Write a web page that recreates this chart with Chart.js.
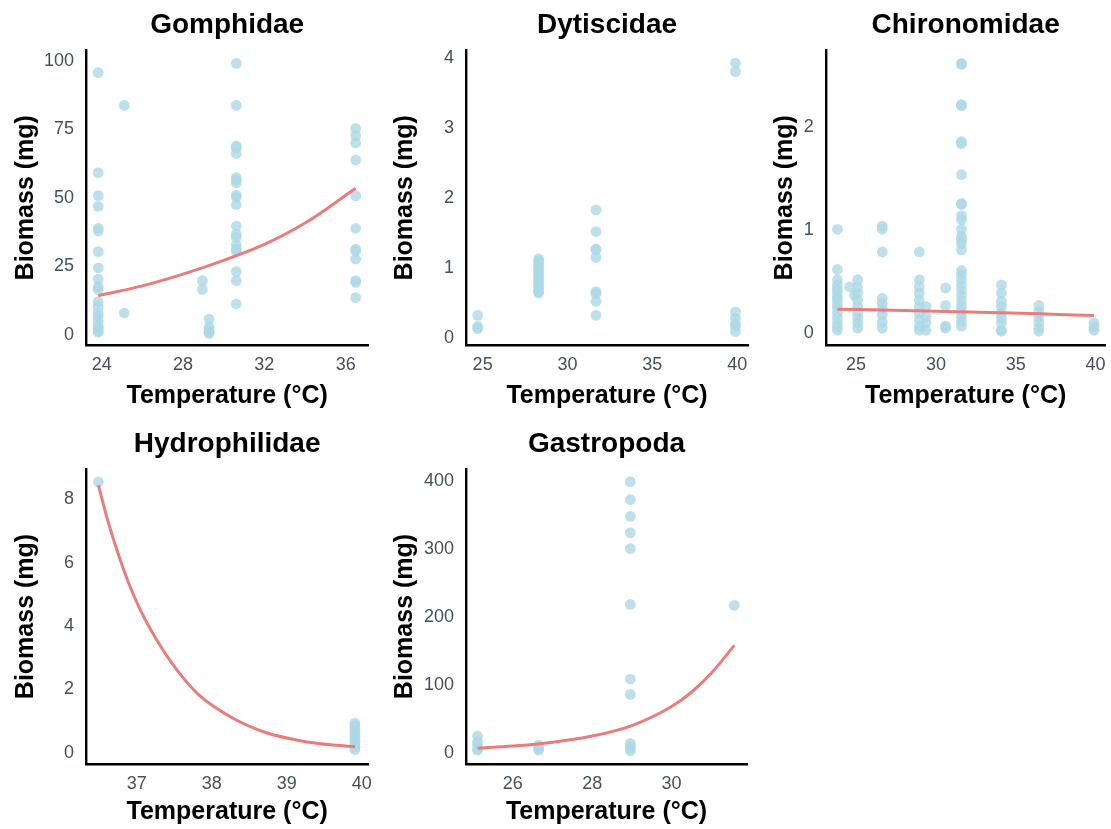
<!DOCTYPE html>
<html>
<head>
<meta charset="utf-8">
<script src="https://cdn.jsdelivr.net/npm/chart.js@4.4.1/dist/chart.umd.min.js"></script>
<style>
  html, body { margin: 0; padding: 0; background: #ffffff; }
  body { width: 1111px; height: 829px; position: relative; overflow: hidden; }
  .panel { position: absolute; }
</style>
</head>
<body>
<div class="panel" id="p1"><canvas id="c1"></canvas></div>
<div class="panel" id="p2"><canvas id="c2"></canvas></div>
<div class="panel" id="p3"><canvas id="c3"></canvas></div>
<div class="panel" id="p4"><canvas id="c4"></canvas></div>
<div class="panel" id="p5"><canvas id="c5"></canvas></div>
<script>
// ---------------- DATA ----------------
const panelTitles = ["Gomphidae", "Dytiscidae", "Chironomidae", "Hydrophilidae", "Gastropoda"];
const xAxisTitle = "Temperature (°C)";
const yAxisTitle = "Biomass (mg)";

// Gomphidae
const gomphidaeTemp = [
  23.83,23.83,23.83,23.83,23.83,23.83,23.83,23.83,23.83,23.83,23.83,23.83,23.83,23.83,23.83,23.83,23.83,23.83,23.83,23.83,
  25.11,25.11,
  28.95,28.95,
  29.28,29.28,29.28,29.28,29.28,
  30.62,30.62,30.62,30.62,30.62,30.62,30.62,30.62,30.62,30.62,30.62,30.62,30.62,30.62,30.62,30.62,30.62,30.62,30.62,30.62,
  36.49,36.49,36.49,36.49,36.49,36.49,36.49,36.49,36.49,36.49,36.49,36.49
];
const gomphidaeBiomass = [
  95.6,59.2,50.8,46.9,38.9,37.9,30.4,24.5,20.4,17.6,16.6,12.2,10.3,8.0,6.7,5.0,3.5,2.5,1.5,1.0,
  83.7,8.0,
  19.8,16.6,
  5.8,3.0,1.8,1.0,0.6,
  99.0,83.7,68.9,68.3,66.2,57.4,56.5,55.5,51.0,50.2,47.5,39.7,36.7,35.6,32.8,31.3,30.6,23.1,19.8,11.3,
  75.3,72.7,70.0,63.8,50.7,38.9,31.3,30.7,27.7,19.8,19.2,13.6
];
const gomphidaeFitTemp = [23.83, 26, 28, 30, 32, 34, 36.49];
const gomphidaeFitBiomass = [14.3, 17.9, 22.2, 27.2, 33.0, 40.8, 53.5];
const gomphidaeXTicks = [24, 28, 32, 36];
const gomphidaeYTicks = [0, 25, 50, 75, 100];

// Dytiscidae
const dytiscidaeTemp = [
  24.71,24.71,24.71,
  28.3,28.3,28.3,28.3,28.3,28.3,28.3,28.3,28.3,28.3,28.3,28.3,28.3,28.3,
  31.68,31.68,31.68,31.68,31.68,31.68,31.68,31.68,31.68,
  39.9,39.9,39.9,39.9,39.9,39.9,39.9
];
const dytiscidaeBiomass = [
  0.32,0.16,0.13,
  1.13,1.10,1.06,1.02,0.98,0.94,0.90,0.86,0.82,0.78,0.74,0.70,0.66,0.64,
  1.83,1.52,1.27,1.26,1.15,0.66,0.63,0.52,0.32,
  3.93,3.81,0.37,0.28,0.20,0.16,0.09
];
const dytiscidaeXTicks = [25, 30, 35, 40];
const dytiscidaeYTicks = [0, 1, 2, 3, 4];

// Chironomidae
const chironomidaeTemp = [
  23.83,23.83,23.83,23.83,23.83,23.83,23.83,23.83,23.83,23.83,23.83,23.83,23.83,23.83,23.83,
  24.6,24.9,
  25.1,25.1,25.1,25.1,25.1,25.1,25.1,25.1,25.1,
  26.64,26.64,26.64,26.64,26.64,26.64,26.64,26.64,26.64,
  28.96,28.96,28.96,28.96,28.96,28.96,28.96,28.96,28.96,28.96,
  29.38,29.38,29.38,29.38,
  30.6,30.6,30.6,30.6,
  31.6,31.6,31.6,31.6,31.6,31.6,31.6,31.6,31.6,31.6,31.6,31.6,31.6,31.6,31.6,31.6,31.6,31.6,31.6,31.6,31.6,31.6,31.6,31.6,31.6,31.6,31.6,31.6,
  34.1,34.1,34.1,34.1,34.1,34.1,34.1,34.1,34.1,
  36.44,36.44,36.44,36.44,36.44,36.44,
  39.9,39.9,39.9
];
const chironomidaeBiomass = [
  1.01,0.62,0.52,0.47,0.43,0.40,0.36,0.33,0.29,0.25,0.20,0.15,0.10,0.06,0.03,
  0.45,0.37,
  0.52,0.45,0.39,0.32,0.26,0.20,0.15,0.10,0.05,
  1.04,1.01,0.79,0.34,0.29,0.24,0.18,0.11,0.05,
  0.79,0.52,0.45,0.39,0.32,0.26,0.19,0.13,0.07,0.03,
  0.26,0.16,0.10,0.03,
  0.44,0.27,0.07,0.05,
  2.62,2.61,2.22,2.21,1.86,1.84,1.54,1.26,1.25,1.14,1.10,1.01,0.94,0.91,0.87,0.81,0.61,0.57,0.52,0.47,0.42,0.37,0.32,0.27,0.22,0.17,0.12,0.07,0.03,0.02,
  0.47,0.39,0.31,0.26,0.20,0.15,0.10,0.05,0.02,
  0.27,0.21,0.16,0.11,0.06,0.03,
  0.10,0.05,0.02
];
const chironomidaeFitTemp = [23.83, 28, 32, 36, 39.9];
const chironomidaeFitBiomass = [0.235, 0.222, 0.207, 0.192, 0.172];
const chironomidaeXTicks = [25, 30, 35, 40];
const chironomidaeYTicks = [0, 1, 2];

// Hydrophilidae
const hydrophilidaeTemp = [36.49, 39.91,39.91,39.91,39.91,39.91,39.91,39.91,39.91,39.91,39.91,39.91];
const hydrophilidaeBiomass = [8.55, 0.93,0.85,0.76,0.67,0.58,0.50,0.42,0.34,0.26,0.18,0.10];
const hydrophilidaeFitTemp = [36.49, 36.6, 36.73, 36.87, 37.04, 37.27, 37.53, 37.84, 38.29, 38.73, 39.18, 39.62, 39.91];
const hydrophilidaeFitBiomass = [8.45, 7.45, 6.45, 5.5, 4.55, 3.55, 2.63, 1.8, 1.08, 0.63, 0.38, 0.24, 0.19];
const hydrophilidaeXTicks = [37, 38, 39, 40];
const hydrophilidaeYTicks = [0, 2, 4, 6, 8];

// Gastropoda
const gastropodaTemp = [
  25.11,25.11,25.11,25.11,25.11,
  26.65,26.65,26.65,
  28.96,28.96,28.96,28.96,28.96,28.96,28.96,28.96,28.96,28.96,28.96,28.96,
  31.58
];
const gastropodaBiomass = [
  24.5,16.2,11.3,6.4,3.9,
  11.3,6.4,3.9,
  399,372.5,348,324,300.4,218.4,108.5,85.9,13.7,9.8,6.4,2.9,
  217
];
const gastropodaFitTemp = [25.11, 26, 27, 28, 29, 30, 30.5, 31, 31.58];
const gastropodaFitBiomass = [6.5, 9.8, 15.5, 24.5, 40, 68, 89, 117, 158];
const gastropodaXTicks = [26, 28, 30];
const gastropodaYTicks = [0, 100, 200, 300, 400];

// ---------------- STYLE / LAYOUT ----------------
const pointColor = 'rgba(173,216,230,0.80)';
const lineColor = '#e97d7b';
const tickColor = '#46505c';
const FONT = '"Liberation Sans", Arial, Helvetica, sans-serif';

function pairs(xs, ys) { return xs.map((x, i) => ({ x: x, y: ys[i] })); }

const panelTitlePlugin = {
  id: 'panelTitle',
  afterDraw(chart, args, opts) {
    const ctx = chart.ctx, a = chart.chartArea;
    ctx.save();
    ctx.font = 'bold 28px ' + FONT;
    ctx.fillStyle = '#000';
    ctx.textAlign = 'center';
    ctx.textBaseline = 'middle';
    ctx.fillText(opts.text, (a.left + a.right) / 2, a.top - opts.offset);
    ctx.restore();
  }
};

function makePanel(id, cfg) {
  const holder = document.getElementById('p' + id);
  holder.style.left = cfg.cx + 'px';
  holder.style.top = cfg.cy + 'px';
  holder.style.width = cfg.cw + 'px';
  holder.style.height = cfg.ch + 'px';
  const datasets = [];
  if (cfg.fitX) {
    datasets.push({
      type: 'line',
      data: pairs(cfg.fitX, cfg.fitY),
      borderColor: lineColor,
      borderWidth: 3,
      pointRadius: 0,
      fill: false,
      cubicInterpolationMode: 'monotone',
      order: 0
    });
  }
  datasets.push({
    type: 'scatter',
    data: pairs(cfg.x, cfg.y),
    backgroundColor: pointColor,
    borderWidth: 0,
    pointRadius: 5.4,
    pointHoverRadius: 5.4,
    order: 1
  });
  const yWidth = cfg.L - cfg.cx;
  const xHeight = cfg.cy + cfg.ch - cfg.B;
  new Chart(document.getElementById('c' + id), {
    type: 'scatter',
    data: { datasets: datasets },
    plugins: [panelTitlePlugin],
    options: {
      responsive: true,
      maintainAspectRatio: false,
      animation: false,
      events: [],
      layout: { padding: { left: 0, bottom: 0, top: cfg.T - cfg.cy, right: cfg.cx + cfg.cw - cfg.R } },
      plugins: {
        legend: { display: false },
        tooltip: { enabled: false },
        panelTitle: { text: cfg.title, offset: 25 }
      },
      scales: {
        x: {
          type: 'linear',
          min: cfg.xmin, max: cfg.xmax,
          grid: { display: false, drawTicks: false },
          border: { display: true, color: '#000', width: 2.4 },
          ticks: { color: tickColor, font: { family: FONT, size: 18 }, padding: 9 },
          afterBuildTicks: s => { s.ticks = cfg.xt.map(v => ({ value: v })); },
          afterFit: s => { s.height = xHeight; s.paddingLeft = 0; s.paddingRight = 0; },
          title: { display: true, text: xAxisTitle, color: '#000',
                   font: { family: FONT, size: 25, weight: 'bold' },
                   padding: { top: 0, bottom: cfg.xtPad } }
        },
        y: {
          type: 'linear',
          min: cfg.ymin, max: cfg.ymax,
          grid: { display: false, drawTicks: false },
          border: { display: true, color: '#000', width: 2.4 },
          ticks: { color: tickColor, font: { family: FONT, size: 18 }, padding: 12 },
          afterBuildTicks: s => { s.ticks = cfg.yt.map(v => ({ value: v })); },
          afterFit: s => { s.width = yWidth; s.paddingTop = 0; s.paddingBottom = 0; },
          title: { display: true, text: yAxisTitle, color: '#000',
                   font: { family: FONT, size: 25, weight: 'bold' },
                   padding: { top: cfg.ytPad, bottom: 0 } }
        }
      }
    }
  });
}

makePanel(1, { title: panelTitles[0], cx: 0, cy: 0, cw: 400, ch: 413, L: 86, T: 50, R: 368.3, B: 345.5,
  xmin: 23.23, xmax: 37.11, ymin: -3.83, ymax: 103.9, xt: gomphidaeXTicks, yt: gomphidaeYTicks,
  x: gomphidaeTemp, y: gomphidaeBiomass, fitX: gomphidaeFitTemp, fitY: gomphidaeFitBiomass, ytPad: 11, xtPad: 1.5 });
makePanel(2, { title: panelTitles[1], cx: 370, cy: 0, cw: 410, ch: 413, L: 466, T: 50, R: 748, B: 345.5,
  xmin: 24.02, xmax: 40.64, ymin: -0.112, ymax: 4.12, xt: dytiscidaeXTicks, yt: dytiscidaeYTicks,
  x: dytiscidaeTemp, y: dytiscidaeBiomass, ytPad: 20, xtPad: 1.5 });
makePanel(3, { title: panelTitles[2], cx: 740, cy: 0, cw: 371, ch: 413, L: 825.7, T: 50, R: 1106, B: 345.5,
  xmin: 23.1, xmax: 40.625, ymin: -0.118, ymax: 2.75, xt: chironomidaeXTicks, yt: chironomidaeYTicks,
  x: chironomidaeTemp, y: chironomidaeBiomass, fitX: chironomidaeFitTemp, fitY: chironomidaeFitBiomass, ytPad: 30, xtPad: 1.5 });
makePanel(4, { title: panelTitles[3], cx: 0, cy: 410, cw: 400, ch: 419, L: 86, T: 469, R: 368.3, B: 764,
  xmin: 36.324, xmax: 40.088, ymin: -0.357, ymax: 8.96, xt: hydrophilidaeXTicks, yt: hydrophilidaeYTicks,
  x: hydrophilidaeTemp, y: hydrophilidaeBiomass, fitX: hydrophilidaeFitTemp, fitY: hydrophilidaeFitBiomass, ytPad: 11, xtPad: 1.5 });
makePanel(5, { title: panelTitles[4], cx: 370, cy: 410, cw: 410, ch: 419, L: 466, T: 469, R: 747, B: 764,
  xmin: 24.82, xmax: 31.9, ymin: -16.6, ymax: 417.7, xt: gastropodaXTicks, yt: gastropodaYTicks,
  x: gastropodaTemp, y: gastropodaBiomass, fitX: gastropodaFitTemp, fitY: gastropodaFitBiomass, ytPad: 20, xtPad: 1.5 });
</script>
</body>
</html>
